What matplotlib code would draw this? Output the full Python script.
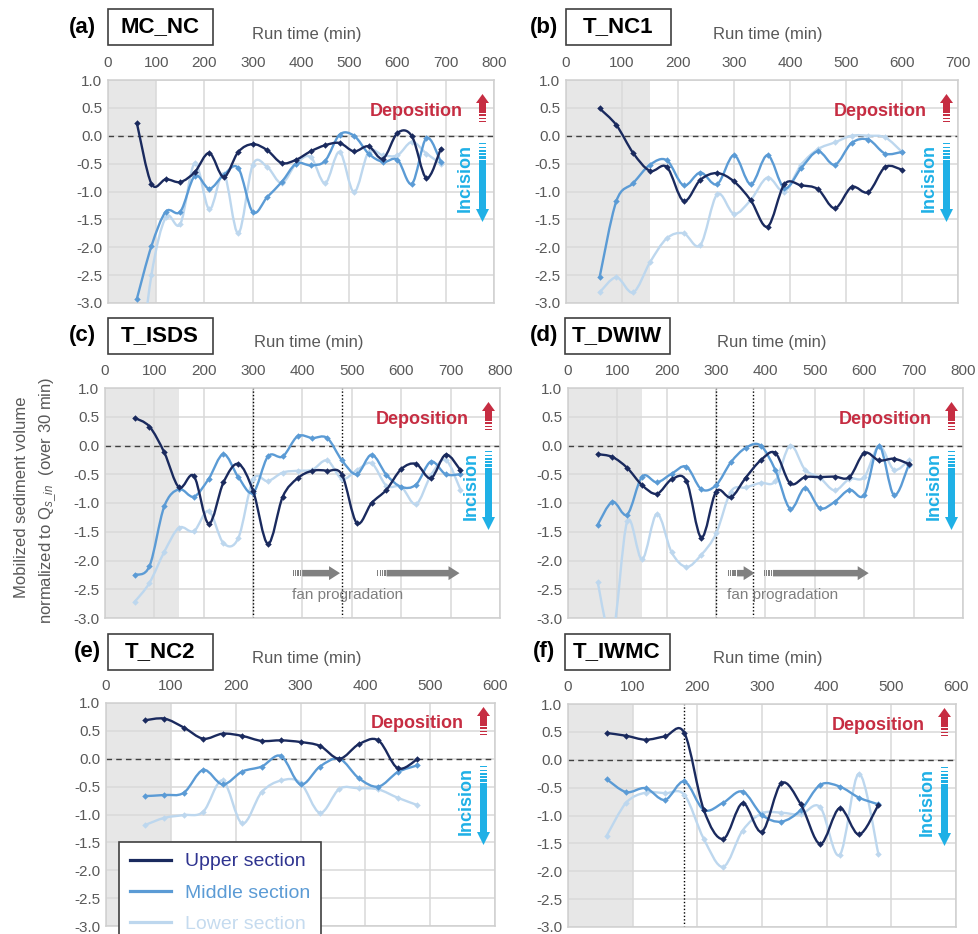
import numpy as np
import matplotlib
matplotlib.use("Agg")
import matplotlib.pyplot as plt
from matplotlib.path import Path
from matplotlib.patches import PathPatch, Polygon, Rectangle
from matplotlib.transforms import Affine2D

plt.rcParams["font.family"] = ["Liberation Sans", "DejaVu Sans"]
plt.rcParams["axes.unicode_minus"] = False
plt.rcParams["mathtext.fontset"] = "custom"
plt.rcParams["mathtext.rm"] = "Liberation Sans"
plt.rcParams["mathtext.it"] = "Liberation Sans:italic"

# ---- run times (min) ----
t_a = [60, 90, 120, 150, 180, 210, 240, 270, 300, 330, 360, 390, 420, 450, 480, 510, 540, 570, 600, 630, 660, 690]
t_b = [60, 90, 120, 150, 180, 210, 240, 270, 300, 330, 360, 390, 420, 450, 480, 510, 540, 570, 600]
t_c = [60, 90, 120, 150, 180, 210, 240, 270, 300, 330, 360, 390, 420, 450, 480, 510, 540, 570, 600, 630, 660, 690, 720]
t_d = [60, 90, 120, 150, 180, 210, 240, 270, 300, 330, 360, 390, 420, 450, 480, 510, 540, 570, 600, 630, 660, 690]
t_e = [60, 90, 120, 150, 180, 210, 240, 270, 300, 330, 360, 390, 420, 450, 480]
t_f = [60, 90, 120, 150, 180, 210, 240, 270, 300, 330, 360, 390, 420, 450, 480]

# ---- normalized mobilized volume: upper / middle / lower section ----
up_a = [0.22, -0.86, -0.78, -0.83, -0.65, -0.31, -0.74, -0.29, -0.15, -0.26, -0.49, -0.43, -0.28, -0.17, -0.13, -0.28, -0.19, -0.41, 0.05, -0.01, -0.76, -0.23]
mid_a = [-2.92, -1.98, -1.36, -1.36, -0.72, -0.95, -0.70, -0.58, -1.37, -1.10, -0.83, -0.50, -0.53, -0.45, 0.02, 0.0, -0.32, -0.47, -0.43, -0.86, -0.04, -0.47]
low_a = [-4.6, -2.5, -1.46, -1.58, -0.49, -1.32, -0.68, -1.75, -0.52, -0.56, -0.85, -0.50, -0.38, -0.85, -0.29, -1.01, -0.29, -0.35, -0.35, -0.11, -0.32, -0.50]

up_b = [0.49, 0.19, -0.31, -0.63, -0.56, -1.17, -0.79, -0.67, -0.82, -1.16, -1.63, -0.87, -0.89, -0.96, -1.30, -0.92, -1.01, -0.56, -0.61]
mid_b = [-2.54, -1.17, -0.85, -0.52, -0.44, -0.89, -0.66, -0.87, -0.35, -0.87, -0.35, -0.94, -0.58, -0.28, -0.52, -0.13, -0.07, -0.32, -0.29]
low_b = [-2.81, -2.54, -2.81, -2.27, -1.84, -1.75, -1.96, -1.05, -1.40, -1.15, -0.75, -1.0, -0.52, -0.24, -0.12, 0.0, 0.0, -0.03, -0.29]

up_c = [0.48, 0.33, -0.12, -0.73, -0.53, -1.36, -0.64, -0.32, -0.79, -1.71, -0.89, -0.57, -0.44, -0.44, -0.51, -1.35, -1.0, -0.77, -0.41, -0.32, -0.57, -0.16, -0.43]
mid_c = [-2.25, -2.10, -1.06, -0.76, -0.89, -0.58, -0.15, -0.55, -0.82, -0.19, -0.19, 0.16, 0.13, 0.13, -0.26, -0.50, -0.16, -0.51, -0.72, -0.68, -0.28, -0.50, -0.50]
low_c = [-2.72, -2.39, -1.85, -1.43, -1.49, -1.14, -1.70, -1.61, -0.59, -0.62, -0.47, -0.44, -0.42, -0.26, -0.58, -0.43, -0.31, -0.70, -0.72, -1.02, -0.52, -0.25, -0.77]

up_d = [-0.15, -0.20, -0.39, -0.69, -0.84, -0.59, -0.62, -1.60, -0.80, -0.90, -0.56, -0.26, -0.13, -0.66, -0.55, -0.55, -0.54, -0.55, -0.13, -0.26, -0.23, -0.32]
mid_d = [-1.38, -0.98, -1.20, -0.54, -0.64, -0.49, -0.37, -0.76, -0.69, -0.29, -0.04, 0.0, -0.43, -1.10, -0.74, -1.09, -0.98, -0.77, -0.86, -0.01, -0.86, -0.34]
low_d = [-2.38, -3.30, -1.32, -1.98, -1.19, -1.86, -2.11, -1.90, -1.53, -0.80, -0.73, -0.65, -0.62, 0.0, -0.42, -0.56, -0.78, -0.58, -0.55, -0.01, -0.42, -0.26]

up_e = [0.69, 0.72, 0.56, 0.36, 0.45, 0.41, 0.32, 0.33, 0.30, 0.23, 0.0, 0.26, 0.33, -0.17, -0.01]
mid_e = [-0.67, -0.65, -0.61, -0.20, -0.46, -0.23, -0.14, 0.05, -0.46, -0.14, 0.0, -0.35, -0.50, -0.24, -0.12]
low_e = [-1.19, -1.06, -1.01, -0.95, -0.39, -1.16, -0.60, -0.39, -0.43, -0.97, -0.54, -0.53, -0.55, -0.70, -0.83]

up_f = [0.48, 0.43, 0.36, 0.42, 0.48, -0.90, -1.42, -0.78, -1.29, -0.42, -0.80, -1.51, -0.87, -1.34, -0.81]
mid_f = [-0.35, -0.58, -0.51, -0.72, -0.39, -0.90, -0.77, -0.57, -0.99, -1.11, -0.90, -0.45, -0.48, -0.68, -0.80]
low_f = [-1.36, -0.77, -0.59, -0.60, -0.63, -1.42, -1.92, -1.27, -0.96, -0.95, -0.98, -0.85, -1.71, -0.25, -1.69]

run_names = ["MC_NC", "T_NC1", "T_ISDS", "T_DWIW", "T_NC2", "T_IWMC"]
panel_tags = ["(a)", "(b)", "(c)", "(d)", "(e)", "(f)"]
x_max = [800, 700, 800, 800, 600, 600]
shade_end = [100, 150, 150, 150, 100, 100]
dotted_at = [[], [], [300, 480], [300, 375], [], [180]]
# fan progradation arrows: (tail, tip) run time, drawn at y = -2.2
fan_arrows = {2: [(379, 476), (550, 718)], 3: [(322, 378), (395, 609)]}
fan_text_x = {2: 491, 3: 435}
section_names = ["Upper section", "Middle section", "Lower section"]

UPPER = "#1a2a5e"
MIDDLE = "#5b9bd5"
LOWER = "#bdd7ee"
LEGEND_TXT = ["#2f3490", "#5b9bd5", "#c5dbef"]
RED = "#c62d42"
SKY = "#1fb0e6"
GREY_TXT = "#595959"

W, H = 979, 934
fig = plt.figure(figsize=(W / 100, H / 100), dpi=100)
# figure pixels, origin top-left
t_px = Affine2D().scale(1 / W, -1 / H).translate(0, 1) + fig.transFigure

# axes boxes in pixels: left, top, right, bottom
ax_px = [(108, 80, 494, 303), (566, 80, 958, 303),
         (105, 388, 500, 618), (568, 388, 963, 618),
         (106, 703, 495, 926), (568, 704, 956, 927)]
tag_px = [(82, 28), (544, 28), (82, 335), (544, 335), (87, 652), (544, 652)]
box_px = [(160, 27), (618, 27), (160, 336), (617, 336), (160, 652), (617, 652)]
dep_drop = [0, 0, 0, 0, -10, -10]

series = [(t_a, up_a, mid_a, low_a), (t_b, up_b, mid_b, low_b),
          (t_c, up_c, mid_c, low_c), (t_d, up_d, mid_d, low_d),
          (t_e, up_e, mid_e, low_e), (t_f, up_f, mid_f, low_f)]


def smooth_line(ax, x, y, color, z):
    # Catmull-Rom style cubic Bezier through the points (like Excel smoothed lines)
    pts = np.column_stack([x, y]).astype(float)
    n = len(pts)
    verts = [pts[0]]
    codes = [Path.MOVETO]
    for i in range(n - 1):
        p0 = pts[max(i - 1, 0)]
        p1, p2 = pts[i], pts[i + 1]
        p3 = pts[min(i + 2, n - 1)]
        verts += [p1 + (p2 - p0) / 6, p2 - (p3 - p1) / 6, p2]
        codes += [Path.CURVE4] * 3
    ax.add_patch(PathPatch(Path(verts, codes), fill=False, edgecolor=color,
                           lw=1.7, zorder=z, capstyle="round", joinstyle="round"))
    ax.plot(x, y, ls="none", marker="D", ms=3.3, mew=0, color=color, zorder=z)


def striped_arrow(tail, tip, body_w, head_w, head_len, stripe_len, n_stripes, color):
    tail = np.asarray(tail, float)
    tip = np.asarray(tip, float)
    u = (tip - tail) / np.linalg.norm(tip - tail)
    nv = np.array([-u[1], u[0]])
    base = tip - u * head_len
    start = tail + u * stripe_len
    shape = [start + nv * body_w / 2, base + nv * body_w / 2, base + nv * head_w / 2, tip,
             base - nv * head_w / 2, base - nv * body_w / 2, start - nv * body_w / 2]
    fig.patches.append(Polygon(shape, closed=True, color=color, lw=0, transform=t_px, figure=fig))
    # thin bars that fade toward the tail
    step = stripe_len / n_stripes
    for k in range(n_stripes):
        a = start - u * (k + 0.35) * step
        thick = step * (0.65 - 0.1 * k)
        b = a - u * max(thick, 0.6)
        bar = [a + nv * body_w / 2, a - nv * body_w / 2, b - nv * body_w / 2, b + nv * body_w / 2]
        fig.patches.append(Polygon(bar, closed=True, color=color, lw=0, transform=t_px, figure=fig))


axes = []
for i, (l, t, r, b) in enumerate(ax_px):
    ax = fig.add_axes([l / W, 1 - b / H, (r - l) / W, (b - t) / H])
    axes.append(ax)
    times, up, mid, low = series[i]

    ax.axvspan(0, shade_end[i], color="#e7e7e7", lw=0, zorder=0)
    ax.set_axisbelow(True)
    ax.grid(True, color="#d9d9d9", lw=1.1)
    ax.axhline(0, color="#404040", ls=(0, (4, 3)), lw=1.0, zorder=2)
    for xv in dotted_at[i]:
        ax.axvline(xv, color="black", ls=(0, (1, 1.5)), lw=1.0, zorder=2)

    smooth_line(ax, times, low, LOWER, 3)
    smooth_line(ax, times, mid, MIDDLE, 4)
    smooth_line(ax, times, up, UPPER, 5)

    ax.set_xlim(0, x_max[i])
    ax.set_ylim(-3, 1)
    ax.set_xticks(np.arange(0, x_max[i] + 1, 100))
    ax.set_yticks(np.arange(-3, 1.01, 0.5))
    ax.set_yticklabels([f"{v:.1f}" for v in np.arange(-3, 1.01, 0.5)])
    ax.xaxis.tick_top()
    ax.tick_params(axis="x", length=0, pad=7, labelsize=11, labelcolor=GREY_TXT)
    ax.tick_params(axis="y", length=0, pad=4, labelsize=11, labelcolor=GREY_TXT)
    for s in ax.spines.values():
        s.set_color("#cfcfcf")
        s.set_linewidth(1.1)

    # panel tag, run name box, axis title
    fig.text(tag_px[i][0] / W, 1 - tag_px[i][1] / H, panel_tags[i], ha="center", va="center",
             fontsize=16, fontweight="bold")
    bx, by = box_px[i]
    fig.patches.append(Rectangle((bx - 52, by - 18), 105, 36, transform=t_px, figure=fig,
                                 fill=False, edgecolor="#404040", lw=1.2))
    fig.text(bx / W, 1 - by / H, run_names[i], ha="center", va="center",
             fontsize=16, fontweight="bold")
    fig.text((l + r) / 2 / W + 6 / W, 1 - (t - 45) / H, "Run time (min)", ha="center", va="center",
             fontsize=12, color=GREY_TXT)

    # deposition / incision markers near the right edge
    dy = dep_drop[i]
    fig.text((r - 31) / W, 1 - (t + 31 + dy) / H, "Deposition", ha="right", va="center",
             fontsize=13, fontweight="bold", color=RED)
    striped_arrow((r - 11.5, t + 43 + dy), (r - 11.5, t + 14 + dy), 7, 13, 9, 10, 3, RED)
    fig.text((r - 29) / W, 1 - (t + 98) / H, "Incision", ha="center", va="center", rotation=90,
             fontsize=13, fontweight="bold", color=SKY)
    striped_arrow((r - 11.5, t + 62), (r - 11.5, t + 142), 7, 13, 13, 18, 5, SKY)

    if i in fan_arrows:
        for tail_x, tip_x in fan_arrows[i]:
            p0 = ax.transData.transform((tail_x, -2.22))
            p1 = ax.transData.transform((tip_x, -2.22))
            striped_arrow((p0[0], H - p0[1]), (p1[0], H - p1[1]), 6.5, 14, 11, 10, 4, "#808080")
        ax.text(fan_text_x[i], -2.6, "fan progradation", ha="center", va="center",
                fontsize=11, color="#7f7f7f", zorder=6)

fig.text(22 / W, 1 - 497 / H, "Mobilized sediment volume", rotation=90, ha="center", va="center",
         fontsize=12, color=GREY_TXT)
fig.text(48 / W, 1 - 500 / H, r"normalized to Q$_{s\_in}$  (over 30 min)", rotation=90,
         ha="center", va="center", fontsize=12, color=GREY_TXT)

handles = [plt.Line2D([], [], color=c, lw=2.3) for c in (UPPER, MIDDLE, LOWER)]
leg = axes[4].legend(handles, section_names, loc="upper left", bbox_to_anchor=(119, 842),
                     bbox_transform=t_px, borderaxespad=0, fontsize=14, frameon=True,
                     fancybox=False, framealpha=1, edgecolor="#404040", borderpad=0.55,
                     handlelength=2.15, handletextpad=0.7, labelspacing=0.7)
leg.get_frame().set_linewidth(1.2)
leg.set_zorder(10)
for txt, c in zip(leg.get_texts(), LEGEND_TXT):
    txt.set_color(c)

fig.savefig("out.png", dpi=100)
